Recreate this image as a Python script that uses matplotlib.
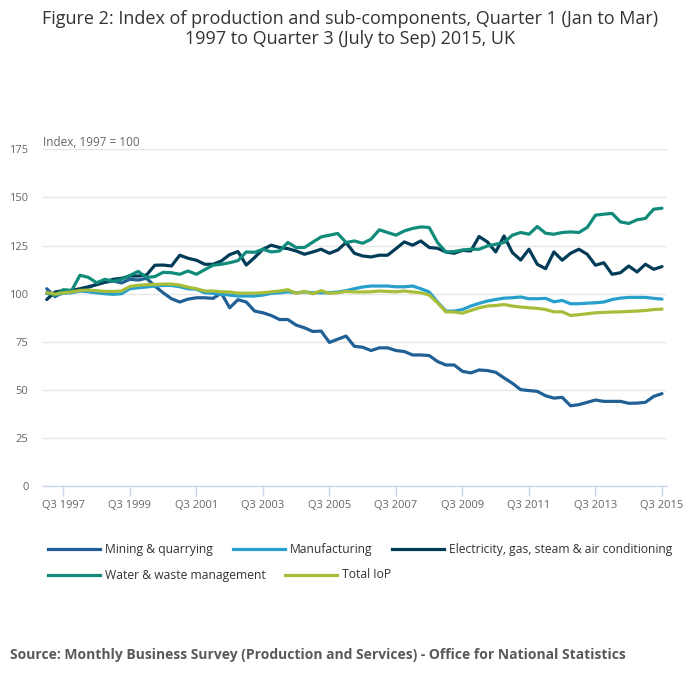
import matplotlib
matplotlib.use("Agg")
import matplotlib.pyplot as plt
from matplotlib.lines import Line2D
import numpy as np

plt.rcParams['font.family'] = ['Open Sans', 'DejaVu Sans']

# Quarters Q1 1997 .. Q3 2015 (75 quarters)
tick_labels = ["Q3 1997", "Q3 1999", "Q3 2001", "Q3 2003", "Q3 2005",
               "Q3 2007", "Q3 2009", "Q3 2011", "Q3 2013", "Q3 2015"]
tick_quarters = [2, 10, 18, 26, 34, 42, 50, 58, 66, 74]

mining = [102.6, 98.5, 100.9, 101.4, 101.9, 103.3, 104.9, 105.9, 106.6, 105.6,
          107.5, 107.1, 108.0, 104.0, 100.5, 97.4, 95.7, 97.2, 97.9, 97.9,
          97.6, 100.3, 92.7, 96.9, 95.7, 91.0, 90.1, 88.7, 86.6, 86.6,
          83.7, 82.3, 80.4, 80.6, 74.7, 76.4, 78.0, 72.7, 72.2, 70.5,
          71.9, 71.9, 70.5, 70.0, 68.2, 68.2, 67.9, 64.8, 63.0, 63.0,
          59.7, 58.9, 60.4, 60.1, 59.2, 56.3, 53.5, 50.2, 49.7, 49.3,
          47.0, 45.8, 46.2, 41.8, 42.4, 43.6, 44.8, 44.1, 44.1, 44.1,
          43.1, 43.2, 43.6, 46.7, 48.1]

manufacturing = [100.2, 99.3, 100.2, 100.5, 101.4, 101.0, 100.5, 100.0, 99.7, 100.0,
                 102.6, 103.1, 103.5, 104.0, 104.3, 104.3, 103.6, 102.6, 102.3, 100.5,
                 100.2, 99.7, 99.3, 98.8, 98.8, 98.8, 99.3, 100.2, 100.5, 101.0,
                 100.5, 100.9, 100.5, 100.5, 100.5, 100.9, 101.6, 102.6, 103.5, 104.0,
                 104.0, 104.0, 103.6, 103.6, 104.0, 102.6, 100.9, 95.7, 91.0, 91.0,
                 91.8, 93.6, 95.0, 96.2, 97.0, 97.7, 97.9, 98.3, 97.4, 97.4,
                 97.6, 95.8, 96.5, 94.8, 94.8, 95.1, 95.3, 95.7, 97.0, 97.7,
                 98.1, 98.1, 98.1, 97.6, 97.2]

electricity = [97.0, 100.9, 101.6, 101.7, 102.6, 103.6, 104.7, 106.1, 107.5, 108.0,
               109.2, 109.2, 109.7, 114.8, 114.9, 114.4, 120.0, 118.4, 117.4, 115.3,
               115.3, 117.0, 120.3, 121.9, 114.9, 118.8, 123.1, 125.2, 124.0, 123.4,
               122.2, 120.5, 121.7, 123.1, 121.0, 122.7, 126.6, 121.0, 119.6, 119.1,
               120.0, 120.0, 123.4, 126.9, 125.2, 127.4, 124.0, 123.6, 121.7, 121.0,
               122.5, 122.2, 129.7, 126.9, 121.7, 130.0, 121.4, 117.5, 123.1, 115.3,
               113.0, 121.7, 117.4, 121.0, 123.1, 120.5, 114.8, 116.1, 110.1, 110.9,
               114.4, 111.3, 115.3, 112.7, 114.1]

water = [100.5, 99.3, 102.1, 101.7, 109.6, 108.5, 105.7, 107.5, 106.4, 107.5,
         109.5, 111.6, 108.5, 108.9, 111.1, 110.9, 110.1, 111.8, 110.1, 112.5,
         114.8, 115.3, 116.1, 117.2, 121.7, 121.5, 123.1, 121.7, 122.2, 126.6,
         124.0, 124.0, 126.8, 129.5, 130.4, 131.3, 126.6, 127.4, 126.2, 128.3,
         133.2, 131.8, 130.4, 132.6, 133.9, 134.7, 134.4, 126.6, 121.7, 121.9,
         122.7, 123.1, 123.1, 124.8, 125.7, 126.6, 130.4, 131.8, 130.9, 134.9,
         131.4, 130.9, 131.8, 132.1, 131.8, 134.4, 140.8, 141.3, 141.7, 137.3,
         136.5, 138.4, 139.1, 143.9, 144.4]

total_iop = [100.6, 99.8, 100.5, 100.9, 101.7, 101.9, 101.6, 101.2, 101.2, 101.4,
             103.8, 104.4, 104.7, 104.8, 105.0, 105.0, 104.5, 103.4, 102.6, 101.4,
             101.4, 101.0, 100.9, 100.3, 100.3, 100.3, 100.5, 101.0, 101.4, 102.1,
             100.2, 101.2, 100.0, 101.6, 100.2, 100.5, 101.2, 100.9, 100.9, 101.0,
             101.4, 101.2, 101.0, 101.4, 100.9, 100.5, 99.3, 95.3, 90.6, 90.5,
             89.9, 91.3, 92.7, 93.6, 93.9, 94.4, 93.6, 93.1, 92.7, 92.4,
             91.8, 90.6, 90.6, 88.7, 89.1, 89.6, 90.1, 90.3, 90.5, 90.6,
             90.8, 91.0, 91.3, 91.8, 92.0]

series_names = ["Mining & quarrying", "Manufacturing",
                "Electricity, gas, steam & air conditioning",
                "Water & waste management", "Total IoP"]
colors = ["#206095", "#27a0cc", "#003c57", "#118c7b", "#a8bd3a"]
yticks = [0, 25, 50, 75, 100, 125, 150, 175]

fig = plt.figure(figsize=(7.0, 6.82), dpi=100)
W, H = 700, 682
ax = fig.add_axes([43 / W, 1 - 486.3 / H, (667 - 43) / W, (486.3 - 149.3) / H])

x = np.arange(len(mining))
data = [mining, manufacturing, electricity, water, total_iop]
for k in range(5):
    ax.plot(x, data[k], color=colors[k], lw=2.3, solid_joinstyle='round',
            solid_capstyle='round', zorder=3 + k)

ax.set_xlim(-0.45, 74.6)
ax.set_ylim(0, 175)
ax.set_yticks(yticks)
ax.set_yticklabels([str(v) for v in yticks])
ax.set_xticks(tick_quarters)
ax.set_xticklabels(tick_labels)
ax.grid(axis='y', color='#e6e6e6', lw=1)
ax.set_axisbelow(True)
for s in ['top', 'right', 'left']:
    ax.spines[s].set_visible(False)
ax.spines['bottom'].set_color('#ccd6eb')
ax.spines['bottom'].set_linewidth(1)
ax.tick_params(axis='y', length=0, pad=10.5, labelsize=8, labelcolor='#666666')
ax.tick_params(axis='x', length=7, width=1, color='#ccd6eb', pad=3,
               labelsize=8, labelcolor='#666666')

fig.text(43 / W, 1 - 142 / H, "Index, 1997 = 100", fontsize=8.5, color='#666666',
         ha='left', va='center')

fig.text(0.5, 1 - 29 / H,
         "Figure 2: Index of production and sub-components, Quarter 1 (Jan to Mar)\n"
         "1997 to Quarter 3 (July to Sep) 2015, UK",
         ha='center', va='center', fontsize=13, color='#333333', linespacing=1.2)

# legend
leg_items = [(0, 48, 549), (1, 233, 549), (2, 392, 549), (3, 48, 575), (4, 285, 575)]
for k, lx, ly in leg_items:
    fig.add_artist(Line2D([lx / W, (lx + 52) / W], [1 - ly / H, 1 - ly / H],
                          transform=fig.transFigure, color=colors[k], lw=2.3))
    fig.text((lx + 57) / W, 1 - ly / H, series_names[k], fontsize=8.75,
             color='#333333', ha='left', va='center')

fig.text(10 / W, 1 - 655 / H,
         "Source: Monthly Business Survey (Production and Services) - Office for National Statistics",
         fontsize=10, fontweight='bold', color='#595959', ha='left', va='center')

fig.savefig("out.png", dpi=100, facecolor='white')
